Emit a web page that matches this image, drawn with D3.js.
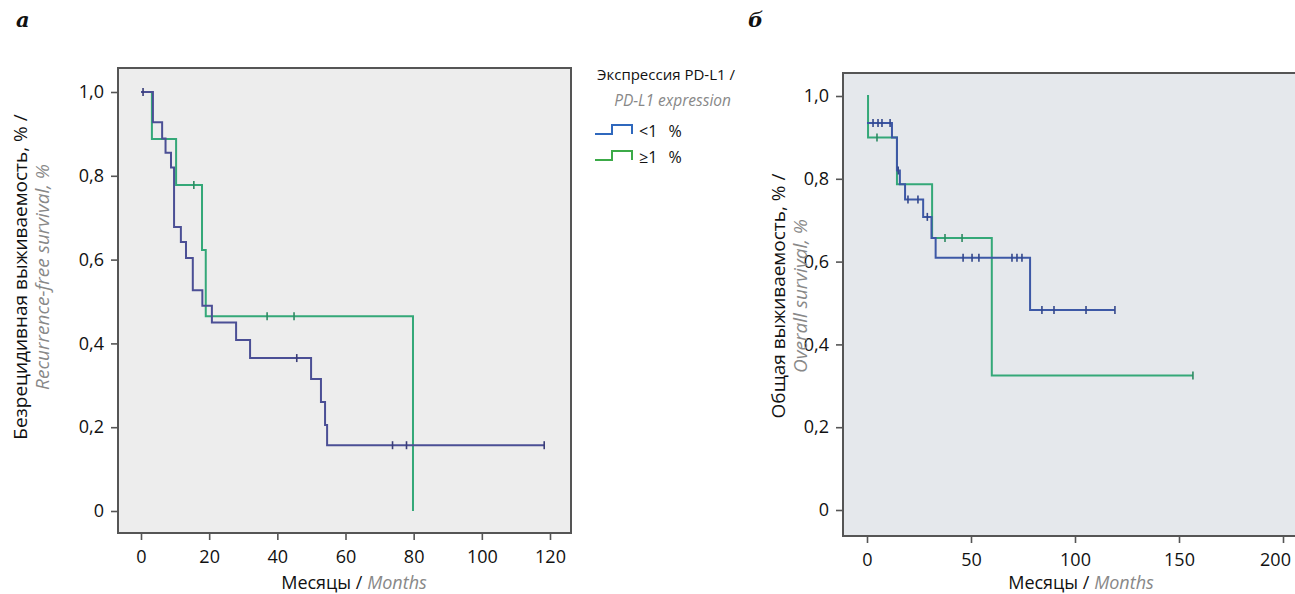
<!DOCTYPE html>
<html>
<head>
<meta charset="utf-8">
<script src="https://cdn.jsdelivr.net/npm/d3@7"></script>
<style>
  body { margin: 0; background: #fff; }
  svg { display: block; font-family: "Open Sans", "Noto Sans", sans-serif; }
</style>
</head>
<body>
<div id="vis"></div>
<script>
// ---- Data ----
// a: recurrence-free survival
const rfsLowT = [0, 3.5, 6.2, 7.2, 8.8, 9.7, 11.7, 13.2, 15.2, 18, 20.8, 27.9, 32, 49.9, 52.8, 54, 54.6, 118.3];
const rfsLowS = [1.0, 0.928, 0.889, 0.855, 0.82, 0.678, 0.642, 0.604, 0.527, 0.49, 0.45, 0.408, 0.365, 0.315, 0.26, 0.205, 0.157, 0.157];
const rfsLowCens = [0.6, 45.7, 73.8, 77.9, 118.3];
const rfsHighT = [0, 3.2, 10.3, 17.9, 19, 79.8];
const rfsHighS = [1.0, 0.888, 0.778, 0.623, 0.465, 0];
const rfsHighCens = [15.5, 37, 44.9];

// b: overall survival
const osLowT = [0, 12, 14.4, 15.8, 18.3, 27, 31, 33, 78.4, 119.2];
const osLowS = [0.935, 0.9, 0.82, 0.787, 0.75, 0.708, 0.657, 0.609, 0.483, 0.483];
const osLowCens = [2.9, 5.3, 7.2, 11.1, 15, 19.7, 24.5, 29, 46.2, 50.5, 53.8, 69.7, 72.1, 74.5, 84.1, 89.9, 105.3, 119.2];
const osHighT = [0, 0.5, 14.4, 31.3, 60, 156.7];
const osHighS = [1.0, 0.9, 0.787, 0.657, 0.325, 0.325];
const osHighCens = [4.8, 37.5, 45.7, 156.7];

const yTicks = [0, 0.2, 0.4, 0.6, 0.8, 1.0];
const xTicksA = [0, 20, 40, 60, 80, 100, 120];
const xTicksB = [0, 50, 100, 150, 200];
const legendLabels = ["<1 %", "\u22651 %"];

const W = 1295, H = 594;
const svg = d3.select("#vis").append("svg").attr("width", W).attr("height", H);

const fmtY = d => d === 0 ? "0" : d3.format(".1f")(d).replace(".", ",");

// value of a step curve at time t
function stepAt(ts, ss, t) {
  let v = ss[0];
  for (let i = 0; i < ts.length; i++) if (ts[i] <= t) v = ss[i];
  return v;
}

function panel(opt) {
  const g = svg.append("g");
  const x = d3.scaleLinear().domain(opt.xDomain).range(opt.xRange);
  const y = d3.scaleLinear().domain([0, 1]).range(opt.yRange);

  // frame
  g.append("rect")
    .attr("x", opt.frame[0]).attr("y", opt.frame[1])
    .attr("width", opt.frame[2] - opt.frame[0]).attr("height", opt.frame[3] - opt.frame[1])
    .attr("fill", opt.bg).attr("stroke", "#555").attr("stroke-width", 2);

  // axes
  const ya = g.append("g").attr("transform", `translate(${opt.frame[0] - 1},0)`)
    .call(d3.axisLeft(y).tickValues(yTicks).tickFormat(fmtY).tickSize(6).tickPadding(7));
  const xa = g.append("g").attr("transform", `translate(0,${opt.frame[3] + 1})`)
    .call(d3.axisBottom(x).tickValues(opt.xTicks).tickSize(6).tickPadding(10));
  [ya, xa].forEach(a => {
    a.select(".domain").remove();
    a.selectAll(".tick line").attr("stroke", "#555").attr("stroke-width", 1.6);
    a.selectAll(".tick text").attr("fill", "#111").style("font-size", "18px")
      .style("font-family", "'Open Sans', 'Noto Sans', sans-serif");
  });
  // keep the last x label inside the window (it sits at the right edge)
  if (opt.lastLabelShift) {
    xa.selectAll(".tick:last-of-type text").attr("dx", opt.lastLabelShift);
  }

  const line = d3.line().x(d => x(d[0])).y(d => y(d[1])).curve(d3.curveStepAfter);

  opt.series.forEach(s => {
    const pts = s.t.map((t, i) => [t, s.s[i]]);
    g.append("path").datum(pts).attr("d", line)
      .attr("fill", "none").attr("stroke", s.color).attr("stroke-width", 2);
    g.selectAll(null).data(s.cens).join("line")
      .attr("x1", d => x(d)).attr("x2", d => x(d))
      .attr("y1", d => y(stepAt(s.t, s.s, d)) - 4)
      .attr("y2", d => y(stepAt(s.t, s.s, d)) + 4)
      .attr("stroke", s.markColor).attr("stroke-width", 1.6);
  });

  // x title
  const xt = g.append("text").attr("x", opt.xTitleX).attr("y", 589)
    .attr("text-anchor", "middle").style("font-size", "18px");
  xt.append("tspan").attr("fill", "#111").text("Месяцы / ");
  xt.append("tspan").attr("fill", "#888").style("font-style", "italic").text("Months");

  // y title
  const yt = g.append("g").attr("transform", `translate(${opt.yTitleX},${opt.yTitleY}) rotate(-90)`);
  yt.append("text").attr("text-anchor", "middle").attr("y", 0)
    .attr("fill", "#111").style("font-size", "19px").text(opt.yTitle1);
  yt.append("text").attr("text-anchor", "middle").attr("y", 22)
    .attr("fill", "#888").style("font-size", "19px").style("font-style", "italic").text(opt.yTitle2);

  // panel letter
  svg.append("text").attr("x", opt.letterX).attr("y", 27)
    .style("font-family", "'DejaVu Serif', 'Liberation Serif', serif")
    .style("font-size", "21px").style("font-weight", "bold").style("font-style", "italic")
    .attr("fill", "#111").text(opt.letter);
}

const BLUE_A = "#4b4f95", BLUE_B = "#3d58a6", GREEN = "#34a878";

panel({
  letter: "a", letterX: 16,
  xDomain: [0, 120], xRange: [141, 550], yRange: [511, 92],
  frame: [118, 68, 571, 533], bg: "#ededed", xTicks: xTicksA,
  xTitleX: 354, yTitleX: 27, yTitleY: 277,
  yTitle1: "Безрецидивная выживаемость, % /", yTitle2: "Recurrence-free survival, %",
  series: [
    { t: rfsHighT, s: rfsHighS, cens: rfsHighCens, color: GREEN, markColor: "#2e8a62" },
    { t: rfsLowT, s: rfsLowS, cens: rfsLowCens, color: BLUE_A, markColor: "#3a3d78" }
  ]
});

panel({
  letter: "б", letterX: 748,
  xDomain: [0, 200], xRange: [867, 1283], yRange: [510, 96],
  frame: [843, 73, 1310, 536], bg: "#e5e8ec", xTicks: xTicksB, lastLabelShift: -8,
  xTitleX: 1081, yTitleX: 785, yTitleY: 296,
  yTitle1: "Общая выживаемость, % /", yTitle2: "Overall survival, %",
  series: [
    { t: osHighT, s: osHighS, cens: osHighCens, color: GREEN, markColor: "#2e8a62" },
    { t: osLowT, s: osLowS, cens: osLowCens, color: BLUE_B, markColor: "#34488c" }
  ]
});

// ---- Legend ----
const lg = svg.append("g");
lg.append("text").attr("x", 597).attr("y", 80).attr("fill", "#111")
  .style("font-size", "15px").text("Экспрессия PD-L1 /");
lg.append("text").attr("x", 731).attr("y", 106).attr("text-anchor", "end").attr("fill", "#888")
  .style("font-size", "15.5px").style("font-style", "italic").text("PD-L1 expression");
const legendColors = ["#2f68bd", "#3caa48"];
legendLabels.forEach((lab, i) => {
  const cy = 131 + i * 26;
  lg.append("path")
    .attr("d", `M595,${cy + 3}H612V${cy - 6}H632V${cy + 3}`)
    .attr("fill", "none").attr("stroke", legendColors[i]).attr("stroke-width", 2);
  lg.append("text").attr("x", 639).attr("y", cy + 6).attr("fill", "#111")
    .style("font-size", "16px").style("word-spacing", "7px").text(lab);
});
</script>
</body>
</html>
